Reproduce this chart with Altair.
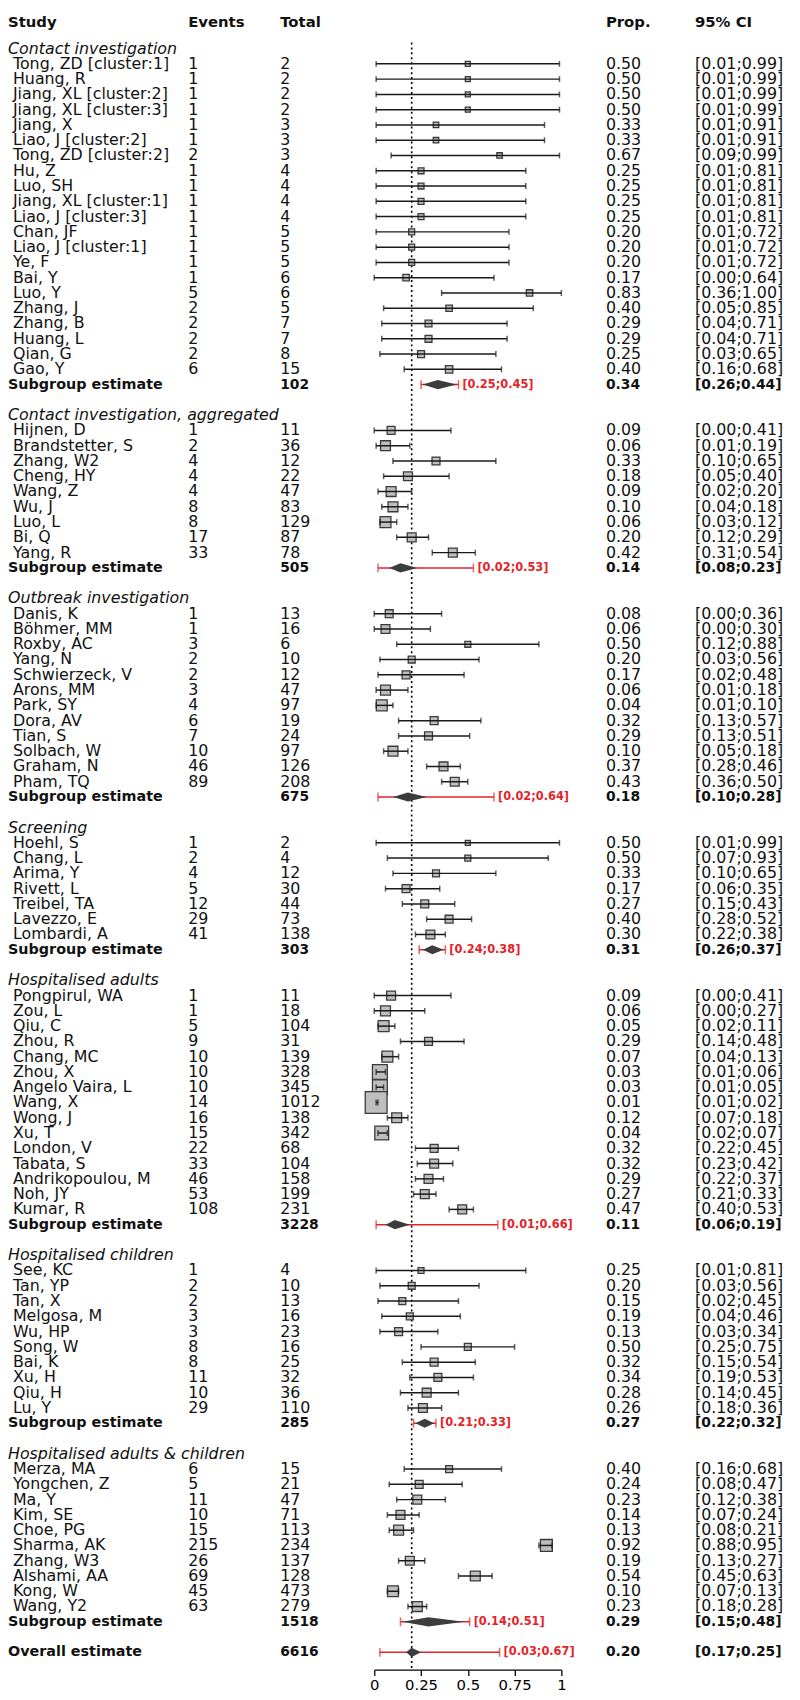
import altair as alt
import pandas as pd

FONT = "DejaVu Sans"
RED = "#E3242B"
INK = "#111111"

group_names = [
    "Contact investigation",
    "Contact investigation, aggregated",
    "Outbreak investigation",
    "Screening",
    "Hospitalised adults",
    "Hospitalised children",
    "Hospitalised adults & children",
]

study_names = [
    ["Tong, ZD [cluster:1]", "Huang, R", "Jiang, XL [cluster:2]", "Jiang, XL [cluster:3]", "Jiang, X",
     "Liao, J [cluster:2]", "Tong, ZD [cluster:2]", "Hu, Z", "Luo, SH", "Jiang, XL [cluster:1]",
     "Liao, J [cluster:3]", "Chan, JF", "Liao, J [cluster:1]", "Ye, F", "Bai, Y", "Luo, Y", "Zhang, J",
     "Zhang, B", "Huang, L", "Qian, G", "Gao, Y"],
    ["Hijnen, D", "Brandstetter, S", "Zhang, W2", "Cheng, HY", "Wang, Z", "Wu, J", "Luo, L", "Bi, Q", "Yang, R"],
    ["Danis, K", "Böhmer, MM", "Roxby, AC", "Yang, N", "Schwierzeck, V", "Arons, MM", "Park, SY", "Dora, AV",
     "Tian, S", "Solbach, W", "Graham, N", "Pham, TQ"],
    ["Hoehl, S", "Chang, L", "Arima, Y", "Rivett, L", "Treibel, TA", "Lavezzo, E", "Lombardi, A"],
    ["Pongpirul, WA", "Zou, L", "Qiu, C", "Zhou, R", "Chang, MC", "Zhou, X", "Angelo Vaira, L", "Wang, X",
     "Wong, J", "Xu, T", "London, V", "Tabata, S", "Andrikopoulou, M", "Noh, JY", "Kumar, R"],
    ["See, KC", "Tan, YP", "Tan, X", "Melgosa, M", "Wu, HP", "Song, W", "Bai, K", "Xu, H", "Qiu, H", "Lu, Y"],
    ["Merza, MA", "Yongchen, Z", "Ma, Y", "Kim, SE", "Choe, PG", "Sharma, AK", "Zhang, W3", "Alshami, AA",
     "Kong, W", "Wang, Y2"],
]

events = [
    [1, 1, 1, 1, 1, 1, 2, 1, 1, 1, 1, 1, 1, 1, 1, 5, 2, 2, 2, 2, 6],
    [1, 2, 4, 4, 4, 8, 8, 17, 33],
    [1, 1, 3, 2, 2, 3, 4, 6, 7, 10, 46, 89],
    [1, 2, 4, 5, 12, 29, 41],
    [1, 1, 5, 9, 10, 10, 10, 14, 16, 15, 22, 33, 46, 53, 108],
    [1, 2, 2, 3, 3, 8, 8, 11, 10, 29],
    [6, 5, 11, 10, 15, 215, 26, 69, 45, 63],
]

totals = [
    [2, 2, 2, 2, 3, 3, 3, 4, 4, 4, 4, 5, 5, 5, 6, 6, 5, 7, 7, 8, 15],
    [11, 36, 12, 22, 47, 83, 129, 87, 78],
    [13, 16, 6, 10, 12, 47, 97, 19, 24, 97, 126, 208],
    [2, 4, 12, 30, 44, 73, 138],
    [11, 18, 104, 31, 139, 328, 345, 1012, 138, 342, 68, 104, 158, 199, 231],
    [4, 10, 13, 16, 23, 16, 25, 32, 36, 110],
    [15, 21, 47, 71, 113, 234, 137, 128, 473, 279],
]

props = [
    [0.50, 0.50, 0.50, 0.50, 0.33, 0.33, 0.67, 0.25, 0.25, 0.25, 0.25, 0.20, 0.20, 0.20, 0.17, 0.83, 0.40,
     0.29, 0.29, 0.25, 0.40],
    [0.09, 0.06, 0.33, 0.18, 0.09, 0.10, 0.06, 0.20, 0.42],
    [0.08, 0.06, 0.50, 0.20, 0.17, 0.06, 0.04, 0.32, 0.29, 0.10, 0.37, 0.43],
    [0.50, 0.50, 0.33, 0.17, 0.27, 0.40, 0.30],
    [0.09, 0.06, 0.05, 0.29, 0.07, 0.03, 0.03, 0.01, 0.12, 0.04, 0.32, 0.32, 0.29, 0.27, 0.47],
    [0.25, 0.20, 0.15, 0.19, 0.13, 0.50, 0.32, 0.34, 0.28, 0.26],
    [0.40, 0.24, 0.23, 0.14, 0.13, 0.92, 0.19, 0.54, 0.10, 0.23],
]

ci_low = [
    [0.01, 0.01, 0.01, 0.01, 0.01, 0.01, 0.09, 0.01, 0.01, 0.01, 0.01, 0.01, 0.01, 0.01, 0.00, 0.36, 0.05,
     0.04, 0.04, 0.03, 0.16],
    [0.00, 0.01, 0.10, 0.05, 0.02, 0.04, 0.03, 0.12, 0.31],
    [0.00, 0.00, 0.12, 0.03, 0.02, 0.01, 0.01, 0.13, 0.13, 0.05, 0.28, 0.36],
    [0.01, 0.07, 0.10, 0.06, 0.15, 0.28, 0.22],
    [0.00, 0.00, 0.02, 0.14, 0.04, 0.01, 0.01, 0.01, 0.07, 0.02, 0.22, 0.23, 0.22, 0.21, 0.40],
    [0.01, 0.03, 0.02, 0.04, 0.03, 0.25, 0.15, 0.19, 0.14, 0.18],
    [0.16, 0.08, 0.12, 0.07, 0.08, 0.88, 0.13, 0.45, 0.07, 0.18],
]

ci_high = [
    [0.99, 0.99, 0.99, 0.99, 0.91, 0.91, 0.99, 0.81, 0.81, 0.81, 0.81, 0.72, 0.72, 0.72, 0.64, 1.00, 0.85,
     0.71, 0.71, 0.65, 0.68],
    [0.41, 0.19, 0.65, 0.40, 0.20, 0.18, 0.12, 0.29, 0.54],
    [0.36, 0.30, 0.88, 0.56, 0.48, 0.18, 0.10, 0.57, 0.51, 0.18, 0.46, 0.50],
    [0.99, 0.93, 0.65, 0.35, 0.43, 0.52, 0.38],
    [0.41, 0.27, 0.11, 0.48, 0.13, 0.06, 0.05, 0.02, 0.18, 0.07, 0.45, 0.42, 0.37, 0.33, 0.53],
    [0.81, 0.56, 0.45, 0.46, 0.34, 0.75, 0.54, 0.53, 0.45, 0.36],
    [0.68, 0.47, 0.38, 0.24, 0.21, 0.95, 0.27, 0.63, 0.13, 0.28],
]

# relative study weights (box area)
weights = [
    [5.2, 5.2, 5.2, 5.2, 6.3, 6.3, 6.3, 7.4, 7.4, 7.4, 7.4, 7.4, 7.4, 7.4, 8.7, 8.7, 8.7, 10.1, 10.1, 10.1, 11.6],
    [13.2, 20.7, 13.2, 16.7, 20.7, 20.7, 25.0, 16.7, 16.7],
    [13.2, 16.7, 7.4, 10.1, 13.2, 20.7, 25.0, 13.2, 13.2, 20.7, 16.7, 16.7],
    [5.2, 7.4, 10.1, 13.2, 13.2, 13.2, 16.7],
    [16.7, 20.7, 25.0, 13.2, 25.0, 46.5, 46.5, 100.0, 20.7, 40.5, 13.2, 16.7, 16.7, 16.7, 16.7],
    [7.4, 10.1, 10.1, 10.1, 13.2, 10.1, 13.2, 13.2, 16.7, 16.7],
    [10.1, 13.2, 16.7, 16.7, 20.7, 29.8, 16.7, 20.7, 25.0, 20.7],
]

sub_total = [102, 505, 675, 303, 3228, 285, 1518]
sub_est = [0.34, 0.14, 0.18, 0.31, 0.11, 0.27, 0.29]
sub_low = [0.26, 0.08, 0.10, 0.26, 0.06, 0.22, 0.15]
sub_high = [0.44, 0.23, 0.28, 0.37, 0.19, 0.32, 0.48]
pi_low = [0.25, 0.02, 0.02, 0.24, 0.01, 0.21, 0.14]
pi_high = [0.45, 0.53, 0.64, 0.38, 0.66, 0.33, 0.51]

overall_total = 6616
overall_est = 0.20
overall_low = 0.17
overall_high = 0.25
overall_pi_low = 0.03
overall_pi_high = 0.67

axis_ticks = [0, 0.25, 0.5, 0.75, 1]

# ---------------- build tables ----------------
def ci_text(a, b):
    return f"[{a:.2f};{b:.2f}]"

study_rows, label_rows, sum_rows = [], [], []
r = 2
for gi, g in enumerate(group_names):
    label_rows.append({"row": r, "label": g})
    r += 1
    for j, nm in enumerate(study_names[gi]):
        study_rows.append({
            "row": r, "name": nm, "events": str(events[gi][j]), "total": str(totals[gi][j]),
            "prop": props[gi][j], "lo": ci_low[gi][j], "hi": ci_high[gi][j], "w": weights[gi][j],
            "prop_txt": f"{props[gi][j]:.2f}", "ci_txt": ci_text(ci_low[gi][j], ci_high[gi][j]),
        })
        r += 1
    sum_rows.append({
        "row": r, "label": "Subgroup estimate", "total": str(sub_total[gi]), "est": sub_est[gi],
        "lo": sub_low[gi], "hi": sub_high[gi], "pilo": pi_low[gi], "pihi": pi_high[gi],
        "est_txt": f"{sub_est[gi]:.2f}", "ci_txt": ci_text(sub_low[gi], sub_high[gi]),
        "pi_txt": ci_text(pi_low[gi], pi_high[gi]),
    })
    r += 2
sum_rows.append({
    "row": r, "label": "Overall estimate", "total": str(overall_total), "est": overall_est,
    "lo": overall_low, "hi": overall_high, "pilo": overall_pi_low, "pihi": overall_pi_high,
    "est_txt": f"{overall_est:.2f}", "ci_txt": ci_text(overall_low, overall_high),
    "pi_txt": ci_text(overall_pi_low, overall_pi_high),
})
last_row = r

studies = pd.DataFrame(study_rows)
labels = pd.DataFrame(label_rows)
sums = pd.DataFrame(sum_rows)

caps = pd.concat([studies[["row", "lo"]].rename(columns={"lo": "x"}),
                  studies[["row", "hi"]].rename(columns={"hi": "x"})])
pi_caps = pd.concat([sums[["row", "pilo"]].rename(columns={"pilo": "x"}),
                     sums[["row", "pihi"]].rename(columns={"pihi": "x"})])

HALF = 0.3
diamonds = []
for s in sum_rows:
    diamonds += [
        {"id": s["row"], "x": s["lo"], "y1": s["row"], "y2": s["row"]},
        {"id": s["row"], "x": s["est"], "y1": s["row"] - HALF, "y2": s["row"] + HALF},
        {"id": s["row"], "x": s["hi"], "y1": s["row"], "y2": s["row"]},
    ]
diamonds = pd.DataFrame(diamonds)

ref_line = pd.DataFrame([{"x": overall_est, "y1": 1.6, "y2": last_row + 1.1}])

# ---------------- scales ----------------
XS = alt.Scale(domain=[0, 1], range=[370, 559], nice=False, zero=False)
YS = alt.Scale(domain=[0, last_row], range=[1.5, 1.5 + 15.43 * last_row], nice=False, zero=False)
XA = alt.Axis(values=axis_ticks, format=".2~f", title=None, grid=False, domainColor="#000",
              domainWidth=1.3, tickColor="#000", tickWidth=1.3, tickSize=6, labelFont=FONT,
              labelFontSize=15, labelColor="#000", labelPadding=2, labelFlush=False, labelOverlap=False)


def X(f):
    return alt.X(f, type="quantitative", scale=XS, axis=XA)


def Y(f):
    return alt.Y(f, type="quantitative", scale=YS, axis=None)


layers = []

layers.append(alt.Chart(ref_line).mark_rule(color="#000", strokeWidth=1.6, strokeDash=[2, 3]).encode(
    x=X("x"), y=alt.Y("y1:Q", scale=YS, axis=None), y2="y2:Q"))

layers.append(alt.Chart(studies).mark_square(fill="#BEBEBE", stroke="#3A3A3A", strokeWidth=1.3, opacity=1).encode(
    x=X("prop"), y=Y("row"),
    size=alt.Size("w:Q", scale=alt.Scale(domain=[0, 100], range=[0, 484]), legend=None)))

layers.append(alt.Chart(studies).mark_rule(color="#1A1A1A", strokeWidth=1.5).encode(
    x=X("lo"), x2="hi:Q", y=Y("row")))

layers.append(alt.Chart(caps).mark_tick(orient="vertical", size=6, thickness=1.5, color="#1A1A1A").encode(
    x=X("x"), y=Y("row")))

layers.append(alt.Chart(sums).mark_rule(color=RED, strokeWidth=1.5).encode(
    x=X("pilo"), x2="pihi:Q", y=Y("row")))

layers.append(alt.Chart(pi_caps).mark_tick(orient="vertical", size=9, thickness=1.5, color=RED).encode(
    x=X("x"), y=Y("row")))

layers.append(alt.Chart(diamonds).mark_area(color="#3C3C3C", orient="vertical", opacity=1).encode(
    x=X("x"), y=alt.Y("y1:Q", scale=YS, axis=None, stack=None), y2="y2:Q", detail="id:N"))

layers.append(alt.Chart(sums).mark_text(align="left", baseline="middle", font=FONT, fontSize=11.5,
                                        fontWeight="bold", color=RED, dx=4).encode(
    x=X("pihi"), y=Y("row"), text="pi_txt:N"))


def txt(df, field, xpx, size=16, weight="normal", style="normal"):
    return alt.Chart(df).mark_text(align="left", baseline="middle", font=FONT, fontSize=size,
                                   fontWeight=weight, fontStyle=style, color=INK).encode(
        x=alt.value(xpx), y=Y("row"), text=alt.Text(f"{field}:N"))


# header
header_cols = [("Study", 0), ("Events", 182), ("Total", 275), ("Prop.", 604), ("95% CI", 694)]
for h, xp in header_cols:
    layers.append(alt.Chart(pd.DataFrame([{"t": h}])).mark_text(
        align="left", baseline="middle", font=FONT, fontSize=15, fontWeight="bold", color=INK).encode(
        x=alt.value(xp), y=alt.value(6), text="t:N"))

layers.append(txt(labels, "label", 0, style="italic"))
layers.append(txt(studies, "name", 5))
layers.append(txt(studies, "events", 182))
layers.append(txt(studies, "total", 275))
layers.append(txt(studies, "prop_txt", 604))
layers.append(txt(studies, "ci_txt", 694))
layers.append(txt(sums, "label", 0, size=14.5, weight="bold"))
layers.append(txt(sums, "total", 275, size=14, weight="bold"))
layers.append(txt(sums, "est_txt", 604, size=14, weight="bold"))
layers.append(txt(sums, "ci_txt", 694, size=14, weight="bold"))

chart = alt.layer(*layers).properties(
    width=792, height=1670,
    autosize=alt.AutoSizeParams(type="none"),
    padding={"left": 0, "top": 0, "right": 0, "bottom": 22},
).configure_view(stroke=None)

chart.save("out.html", embed_options={"renderer": "svg", "actions": False})
